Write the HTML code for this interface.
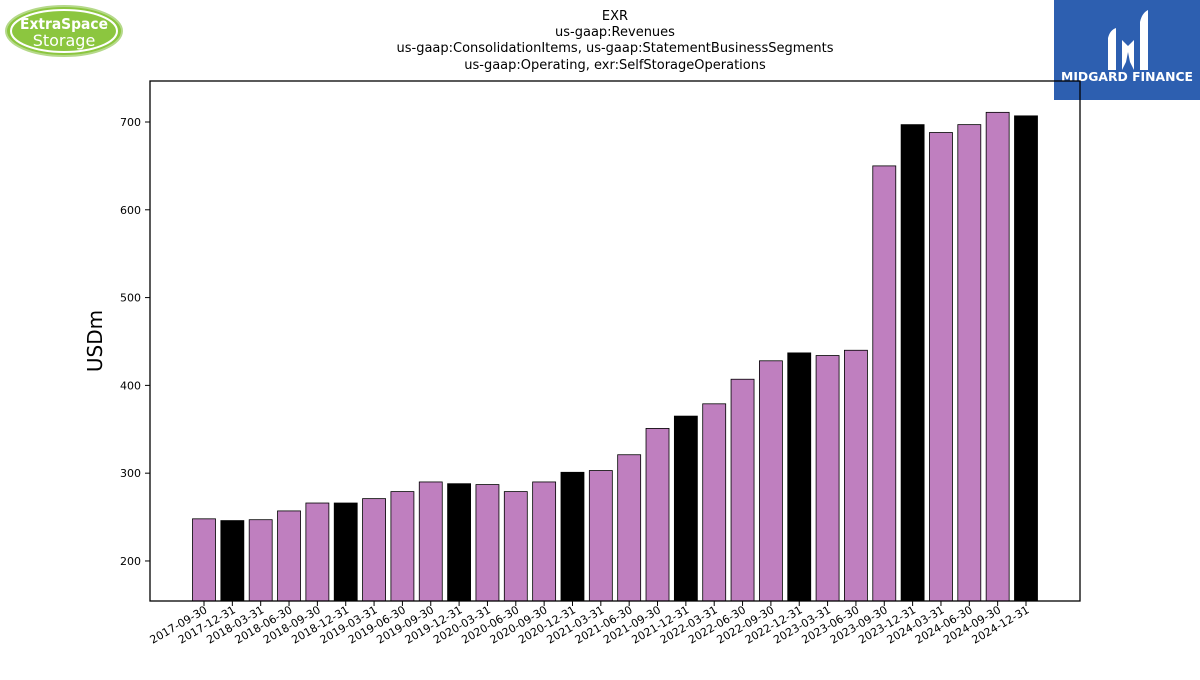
<!DOCTYPE html>
<html><head><meta charset="utf-8"><style>
body{margin:0;background:#fff;font-family:"Liberation Sans","DejaVu Sans",sans-serif}
svg text{font-family:"DejaVu Sans","Liberation Sans",sans-serif}
</style></head><body>
<svg id="chart" width="1200" height="675" viewBox="0 0 1200 675" xmlns="http://www.w3.org/2000/svg">
<g>
<ellipse cx="64" cy="31" rx="58" ry="25" fill="#8cc63f" stroke="#b5d98a" stroke-width="2"/>
<ellipse cx="64" cy="31" rx="53" ry="21" fill="none" stroke="#fff" stroke-width="2"/>
<text x="64" y="29" text-anchor="middle" font-size="15" font-weight="bold" fill="#fff" textLength="88" lengthAdjust="spacingAndGlyphs">ExtraSpace</text>
<text x="64" y="46" text-anchor="middle" font-size="16" fill="#fff">Storage</text>
</g>
<g>
<rect x="1054" y="0" width="146" height="100" fill="#2d5fb0"/>
<path d="M1108 70 L1108 38 Q1110 30 1116 28 L1116 70 Z M1122 70 L1122 40 L1128 46 L1134 40 L1134 70 L1130 62 L1128 52 L1126 62 Z M1140 70 L1140 22 Q1142 13 1148 10 L1148 70 Z" fill="#fff"/>
<text x="1127" y="81" text-anchor="middle" font-size="12" font-weight="bold" fill="#fff" textLength="132" lengthAdjust="spacingAndGlyphs">MIDGARD FINANCE</text>
</g>
<g font-size="13" text-anchor="middle" fill="#000">
<text x="615" y="20">EXR</text>
<text x="615" y="36">us-gaap:Revenues</text>
<text x="615" y="52">us-gaap:ConsolidationItems, us-gaap:StatementBusinessSegments</text>
<text x="615" y="69">us-gaap:Operating, exr:SelfStorageOperations</text>
</g>
<g id="bars"></g>
<g id="yaxis"></g>
<g id="xaxis"></g>
<rect x="150" y="81" width="930" height="520" fill="none" stroke="#000" stroke-width="1.3"/>
<text x="102" y="341" font-size="20" text-anchor="middle" transform="rotate(-90 102 341)">USDm</text>
</svg>
<script>
const categories=["2017-09-30","2017-12-31","2018-03-31","2018-06-30","2018-09-30","2018-12-31","2019-03-31","2019-06-30","2019-09-30","2019-12-31","2020-03-31","2020-06-30","2020-09-30","2020-12-31","2021-03-31","2021-06-30","2021-09-30","2021-12-31","2022-03-31","2022-06-30","2022-09-30","2022-12-31","2023-03-31","2023-06-30","2023-09-30","2023-12-31","2024-03-31","2024-06-30","2024-09-30","2024-12-31"];
const values=[248,246,247,257,266,266,271,279,290,288,287,279,290,301,303,321,351,365,379,407,428,437,434,440,650,697,688,697,711,707];
const yTicks=[200,300,400,500,600,700];
const NS="http://www.w3.org/2000/svg";
const yMin=154.4,yMax=746.7,plotTop=81,plotBot=601;
function y(v){return plotBot-(v-yMin)/(yMax-yMin)*(plotBot-plotTop);}
const step=(1026-204)/29;
function x(i){return 204+i*step;}
const bw=23;
const gb=document.getElementById('bars');
values.forEach((v,i)=>{
 const r=document.createElementNS(NS,'rect');
 
 
 r.setAttribute('x',x(i)-bw/2);r.setAttribute('y',y(v));
 r.setAttribute('width',bw);r.setAttribute('height',plotBot-y(v));
 r.setAttribute('fill',categories[i].endsWith('12-31')?'#000':'#bf7fbf');
 r.setAttribute('stroke','#000');r.setAttribute('stroke-width','0.8');
 gb.appendChild(r);
});
const gy=document.getElementById('yaxis');
yTicks.forEach(t=>{
 const l=document.createElementNS(NS,'line');
 
 
 l.setAttribute('x1',145);l.setAttribute('x2',150);l.setAttribute('y1',y(t));l.setAttribute('y2',y(t));l.setAttribute('stroke','#000');
 gy.appendChild(l);
 const tx=document.createElementNS(NS,'text');
 
 
 tx.setAttribute('x',141);tx.setAttribute('y',y(t)+4);tx.setAttribute('text-anchor','end');tx.setAttribute('font-size','11');
 tx.textContent=t;gy.appendChild(tx);
});
const gx=document.getElementById('xaxis');
categories.forEach((c,i)=>{
 const l=document.createElementNS(NS,'line');
 
 
 l.setAttribute('x1',x(i));l.setAttribute('x2',x(i));l.setAttribute('y1',601);l.setAttribute('y2',606);l.setAttribute('stroke','#000');
 gx.appendChild(l);
 const tx=document.createElementNS(NS,'text');
 
 
 const px=x(i)+4,py=612;
 tx.setAttribute('x',px);tx.setAttribute('y',py);tx.setAttribute('text-anchor','end');tx.setAttribute('font-size','11');
 tx.setAttribute('transform','rotate(-30 '+px+' '+py+')');
 tx.textContent=c;gx.appendChild(tx);
});
</script>
</body></html>
